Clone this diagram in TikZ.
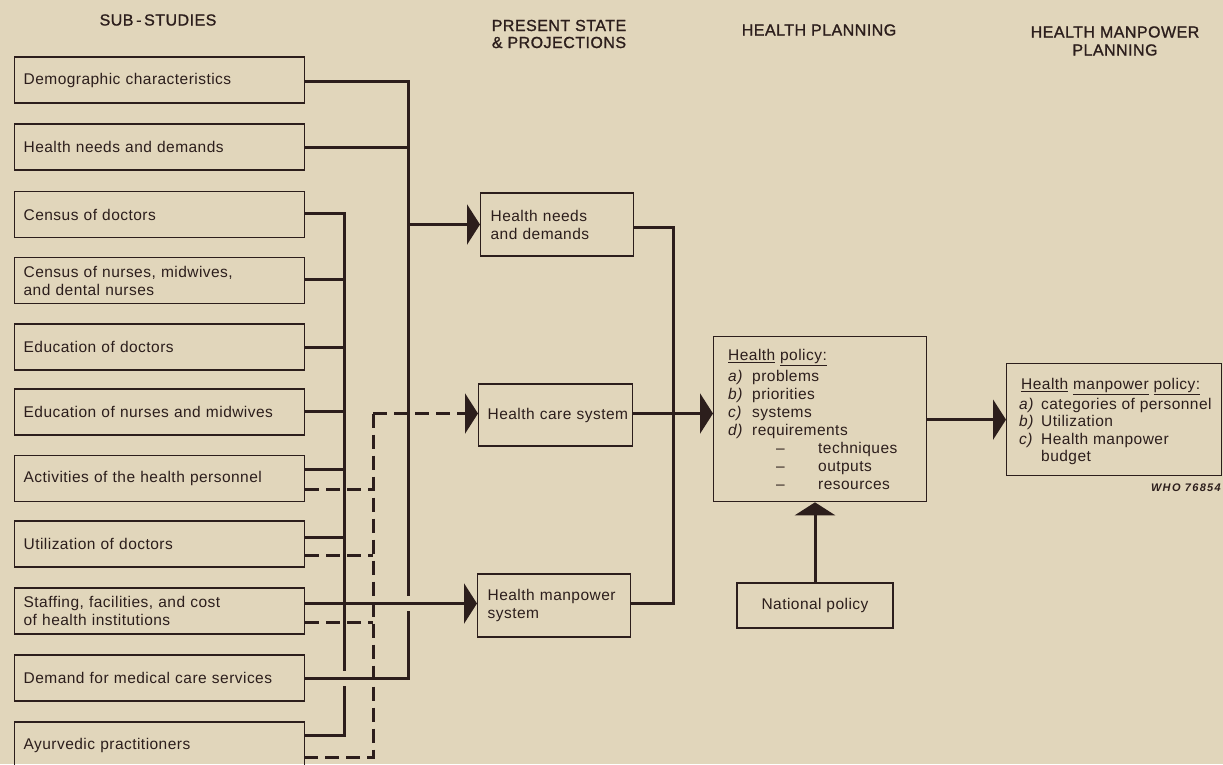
\documentclass[tikz,border=0pt]{standalone}
\usepackage{fontspec}
\setmainfont{Liberation Sans}[LetterSpace=3.0]
\usetikzlibrary{arrows.meta,calc}
\definecolor{paper}{RGB}{225,214,187}
\definecolor{ink}{RGB}{44,30,28}
\newcommand{\mybody}{\fontsize{15.5}{18}\selectfont}
\newcommand{\myhead}{\fontsize{16}{18}\selectfont\addfontfeature{FakeBold=1.2}}
\tikzset{
  box/.style={draw=ink, line width=1.3pt, text=ink, inner ysep=0pt, font=\mybody},
  sub/.style={box, anchor=west, text width=272pt, inner xsep=9pt, align=left, minimum height=46pt},
  mid/.style={box, anchor=west, text width=133pt, inner xsep=10pt, align=left},
  head/.style={text=ink, font=\myhead, align=center, inner sep=0pt},
  link/.style={draw=ink, line width=3pt},
  dlink/.style={link, dash pattern=on 14pt off 7pt},
  arr/.style={-{Triangle[length=13pt,width=40pt]}},
  txt/.style={text=ink, font=\mybody, inner sep=0pt, align=left}
}
\begin{document}
\begin{tikzpicture}[x=1pt,y=-1pt]
\useasboundingbox (0,0) rectangle (1223,764);
\clip (0,0) rectangle (1223,764);
\fill[paper] (0,0) rectangle (1223,764);

% headers
\node[head] (h1) at (158,20) {SUB\,-\,STUDIES};
\node[head] (h2) at (559,34) {PRESENT STATE\\[-1pt]\& PROJECTIONS};
\node[head] (h3) at (819,30) {HEALTH PLANNING};
\node[head] (h4) at (1115,41) {HEALTH MANPOWER\\PLANNING};

% sub-studies
\node[sub] (l1) at (14,80) {Demographic characteristics};
\node[sub] (l2) at (14,147) {Health needs and demands};
\node[sub] (l3) at (14,214.5) {Census of doctors};
\node[sub] (l4) at (14,280.5) {Census of nurses, midwives,\\and dental nurses};
\node[sub] (l5) at (14,347) {Education of doctors};
\node[sub] (l6) at (14,412) {Education of nurses and midwives};
\node[sub] (l7) at (14,478.5) {Activities of the health personnel};
\node[sub] (l8) at (14,544) {Utilization of doctors};
\node[sub] (l9) at (14,611) {Staffing, facilities, and cost\\of health institutions};
\node[sub] (l10) at (14,678) {Demand for medical care services};
\node[sub] (l11) at (14,745) {Ayurvedic practitioners};

% present state boxes
\node[mid, minimum height=63pt] (m1) at (480,224.5) {Health needs\\and demands};
\node[mid, minimum height=62pt, inner xsep=9pt, text width=136pt] (m2) at (478,415) {\mbox{Health care system}};
\node[mid, minimum height=63pt] (m3) at (477,605.5) {Health manpower\\system};

% planning boxes
\node[box, anchor=north west, minimum width=213pt, minimum height=165pt] (hp) at (713,336) {};
\node[txt, anchor=north west] (hpt) at (728,349.5) {%
\underline{Health} \underline{policy:}\\[3pt]
\makebox[24pt][l]{\textit{a)}}problems\\
\makebox[24pt][l]{\textit{b)}}priorities\\
\makebox[24pt][l]{\textit{c)}}systems\\
\makebox[24pt][l]{\textit{d)}}requirements\\
\hspace*{48pt}\makebox[42pt][l]{--}techniques\\
\hspace*{48pt}\makebox[42pt][l]{--}outputs\\
\hspace*{48pt}\makebox[42pt][l]{--}resources};

\node[box, anchor=north west, minimum width=215pt, minimum height=112pt] (hmp) at (1006,363) {};
\node[txt, anchor=north west, font=\fontsize{15.5}{17.5}\selectfont] (hmpt) at (1019,378.5) {%
\hspace*{2pt}\underline{Health} \underline{manpower} \underline{policy:}\\[2pt]
\makebox[22pt][l]{\textit{a)}}categories of personnel\\
\makebox[22pt][l]{\textit{b)}}Utilization\\
\makebox[22pt][l]{\textit{c)}}Health manpower\\
\hspace*{22pt}budget};

\node[box, minimum width=156pt, minimum height=45pt, align=center] (np) at (815,605.5) {National policy};

\node[text=ink, anchor=east, inner sep=0pt, font=\fontsize{11}{12}\selectfont\bfseries\itshape\addfontfeature{LetterSpace=12}] (who) at (1221,488) {WHO 76854};

% bus coordinates
\coordinate (c1) at (408,81.5);
\coordinate (c2) at (408,147.5);
\coordinate (cg1) at (408,596);
\coordinate (cg2) at (408,611);
\coordinate (c3) at (408,678.5);
\coordinate (a1) at (344,213.5);
\coordinate (ag1) at (344,671);
\coordinate (ag2) at (344,686);
\coordinate (a2) at (344,735.5);
\coordinate (b1) at (373,413.5);
\coordinate (b2) at (373,757.5);
\coordinate (r1) at (673,227.5);
\coordinate (r2) at (673,603.5);

% bus C : demographic, needs, demand -> health needs and demands
\draw[link] (l1.east |- c1) -- (c1) -- (cg1);
\draw[link] (cg2) -- (c3) -- (l10.east |- c3);
\draw[link] (l2.east |- c2) -- (c2);
\draw[link,arr] (c1 |- m1.west) -- (m1.west);

% bus A : census, education, activities, utilization, ayurvedic -> manpower system
\draw[link] (l3.east |- a1) -- (a1) -- (ag1);
\draw[link] (ag2) -- (a2) -- (l11.east |- a2);
\draw[link] (l4.east |- 0,279.5) -- (a1 |- 0,279.5);
\draw[link] (l5.east |- 0,347.5) -- (a1 |- 0,347.5);
\draw[link] (l6.east |- 0,411.5) -- (a1 |- 0,411.5);
\draw[link] (l7.east |- 0,469.5) -- (a1 |- 0,469.5);
\draw[link] (l8.east |- 0,537.5) -- (a1 |- 0,537.5);
\draw[link,arr] (l9.east |- r2) -- (m3.west |- r2);

% bus B (dashed) -> health care system
\draw[dlink,arr] (b1) -- (m2.west |- b1);
\draw[dlink] (b1) -- (b2) -- (l11.east |- b2);
\draw[dlink] (l7.east |- 0,489.5) -- (b1 |- 0,489.5);
\draw[dlink] (l8.east |- 0,555.5) -- (b1 |- 0,555.5);
\draw[dlink] (l9.east |- 0,622.5) -- (b1 |- 0,622.5);

% to health policy
\draw[link] (m1.east |- r1) -- (r1) -- (r2) -- (m3.east |- r2);
\draw[link,arr] (m2.east |- b1) -- (hp.west |- b1);
\draw[link,arr] (hp.east |- hmp.west) -- (hmp.west);
\draw[link,arr] (np.north) -- (np.north |- hp.south);
\end{tikzpicture}
\end{document}
